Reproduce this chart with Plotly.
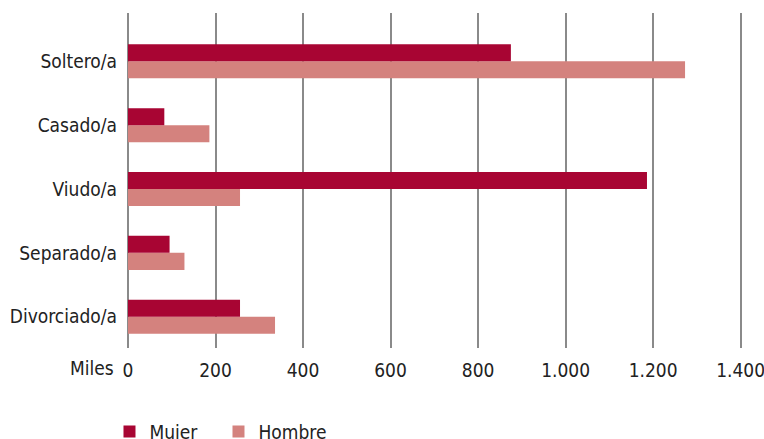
import plotly.graph_objects as go

categories = ["Divorciado/a", "Separado/a", "Viudo/a", "Casado/a", "Soltero/a"]
mujer = [256, 95, 1186, 83, 875]
hombre = [336, 129, 256, 186, 1273]
x_ticks = [0, 200, 400, 600, 800, 1000, 1200, 1400]

FONT = "DejaVu Sans Condensed, Liberation Sans Narrow, Roboto, sans-serif"
FS = 19

fig = go.Figure()
fig.add_trace(go.Bar(y=categories, x=hombre, name="Hombre", orientation="h",
                     marker=dict(color="#D4827E", line=dict(width=0)), legendrank=2))
fig.add_trace(go.Bar(y=categories, x=mujer, name="Mujer", orientation="h",
                     marker=dict(color="#A80533", line=dict(width=0)), legendrank=1))

fig.update_layout(
    width=764, height=439,
    margin=dict(l=128, r=19, t=13, b=91, autoexpand=False),
    paper_bgcolor="white", plot_bgcolor="white",
    barmode="group", bargap=0.467, bargroupgap=0,
    separators=",.",
    font=dict(family=FONT, size=FS, color="#222222"),
    showlegend=True,
    legend=dict(orientation="h", x=-0.03, xanchor="left", y=-0.25, yanchor="middle",
                font=dict(size=FS), traceorder="normal", itemwidth=30,
                entrywidth=64, entrywidthmode="pixels"),
    xaxis=dict(range=[0, 1410], tickvals=x_ticks, tickformat=",d",
               showgrid=True, gridcolor="#8a8a8a", gridwidth=1.5,
               zeroline=True, zerolinecolor="#8a8a8a", zerolinewidth=1.5,
               showline=False, ticks="", ticklabelstandoff=9, fixedrange=True,
               automargin=False, ticklabeloverflow="allow"),
    yaxis=dict(categoryorder="array", categoryarray=categories, range=[-0.49, 4.757],
               showgrid=False, zeroline=False, showline=False, ticks="",
               ticklabelstandoff=10, automargin=False, fixedrange=True),
)
fig.add_annotation(text="Miles", xref="paper", yref="y", x=0, y=-0.49,
                   xanchor="right", yanchor="top", xshift=-12, yshift=-7,
                   showarrow=False, font=dict(family=FONT, size=FS, color="#222222"))

fig.write_html("out.html", config={"displayModeBar": False},
               post_script="document.body.style.margin='0px';")
